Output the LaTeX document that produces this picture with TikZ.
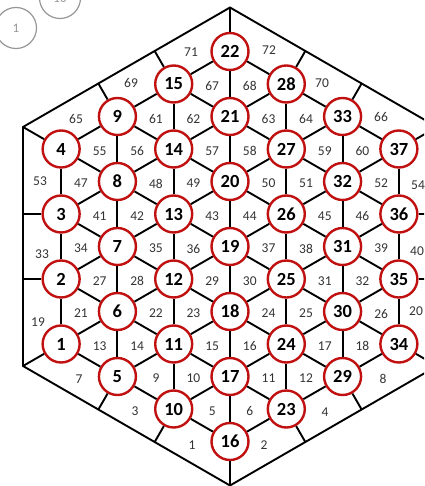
\documentclass[tikz,border=0pt]{standalone}
\usepackage{fontspec}
\setmainfont{Carlito}
\usetikzlibrary{calc}
\definecolor{ringred}{RGB}{192,16,16}
\definecolor{legendgray}{RGB}{150,150,150}
\begin{document}
\begin{tikzpicture}[x=1pt,y=-1pt,
  cell/.style={circle,draw=ringred,line width=2.4pt,fill=white,minimum size=37pt,inner sep=0pt,font=\fontsize{18.5}{20}\selectfont\bfseries},
  link/.style={line width=1.9pt,black},
  lab/.style={font=\fontsize{13.5}{15}\selectfont,text=black!80,inner sep=0pt},
  tri/.style={lab,xshift=1pt,yshift=-2pt},
  legend/.style={circle,draw=legendgray,line width=1.2pt,minimum size=41pt,inner sep=0pt,text=legendgray,font=\fontsize{13}{15}\selectfont}]
\useasboundingbox (0,0) rectangle (424,486);
\clip (0,0) rectangle (424,486);

% legend circles (partly cut off)
\node[legend] (g1) at (16,28) {1};
\node[legend] (g10) at (60,-2) {10};

% lattice nodes
\foreach \c/\n/\s in {0/4/1,1/5/5,2/6/10,3/7/16,4/6/23,5/5/29,6/4/34}{
  \pgfmathtruncatemacro\last{\n-1}
  \foreach \j in {0,...,\last}{
    \pgfmathtruncatemacro\k{\s+\j}
    \pgfmathsetmacro\px{230+(\c-3)*56.29}
    \pgfmathsetmacro\py{246.5+((\n-1)/2-\j)*65}
    \node[cell] (n\k) at (\px,\py) {\k};
  }
}

% vertical links
\foreach \s/\n in {1/4,5/5,10/6,16/7,23/6,29/5,34/4}{
  \pgfmathtruncatemacro\last{\n-2}
  \foreach \j in {0,...,\last}{
    \pgfmathtruncatemacro\p{\s+\j}
    \pgfmathtruncatemacro\q{\s+\j+1}
    \draw[link] (n\p) -- (n\q);
  }
}
% diagonal links
\foreach \a/\n/\b in {1/4/5,5/5/10,10/6/16,23/6/16,29/5/23,34/4/29}{
  \pgfmathtruncatemacro\last{\n-1}
  \foreach \j in {0,...,\last}{
    \pgfmathtruncatemacro\p{\a+\j}
    \pgfmathtruncatemacro\q{\b+\j}
    \pgfmathtruncatemacro\r{\b+\j+1}
    \draw[link] (n\p) -- (n\q);
    \draw[link] (n\p) -- (n\r);
  }
}

% outer hexagon
\coordinate (T) at (230,7.5);
\coordinate (UL) at (23,127);
\coordinate (LL) at (23,366);
\coordinate (B) at (230,485.5);
\coordinate (LR) at (437,366);
\coordinate (UR) at (437,127);
\draw[link] (T) -- (UR) -- (LR) -- (B) -- (LL) -- (UL) -- cycle;
\draw[link] (n22) -- (T);
\draw[link] (n4) -- (UL);
\draw[link] (n1) -- (LL);
\draw[link] (n16) -- (B);
\draw[link] (n34) -- (LR);
\draw[link] (n37) -- (UR);
\foreach \k/\u/\v in {2/UL/LL,3/UL/LL,9/UL/T,15/UL/T,28/T/UR,33/T/UR,35/UR/LR,36/UR/LR,29/LR/B,23/LR/B,10/B/LL,5/B/LL}{
  \coordinate (f\k) at ($(\u)!(n\k)!(\v)$);
  \draw[link] (n\k) -- (f\k);
}

% triangle labels
\foreach \t/\a/\b/\c in {55/9/8/4,47/4/3/8,41/8/7/3,34/3/2/7,27/7/6/2,21/2/1/6,13/6/5/1,
61/9/15/14,56/9/8/14,48/14/13/8,42/8/7/13,35/13/12/7,28/7/6/12,22/12/11/6,14/6/5/11,9/11/10/5,
67/22/21/15,62/15/14/21,57/21/20/14,49/14/13/20,43/20/19/13,36/13/12/19,29/19/18/12,23/12/11/18,15/18/17/11,10/11/10/17,5/17/16/10,
68/22/21/28,63/28/27/21,58/21/20/27,50/27/26/20,44/20/19/26,37/26/25/19,30/19/18/25,24/25/24/18,16/18/17/24,11/24/23/17,6/17/16/23,
64/28/27/33,59/33/32/27,51/27/26/32,45/32/31/26,38/26/25/31,31/31/30/25,25/25/24/30,17/30/29/24,12/24/23/29,
60/33/32/37,52/37/36/32,46/32/31/36,39/36/35/31,32/31/30/35,26/35/34/30,18/30/29/34}{
  \node[tri] (t\t) at (barycentric cs:n\a=1,n\b=1,n\c=1) {\t};
}

% border region labels
\foreach \t/\x/\y in {71/191/52,72/269/50,69/131/83,70/322/83,65/76/119,66/381/117,
53/40/181,54/418/185,33/42/254,40/417/251,19/38/322,20/416/311,
7/79/379,8/383/379,3/135/411,4/325/412,1/192/445,2/264/445}{
  \node[lab] (b\t) at (\x,\y) {\t};
}
\end{tikzpicture}
\end{document}
